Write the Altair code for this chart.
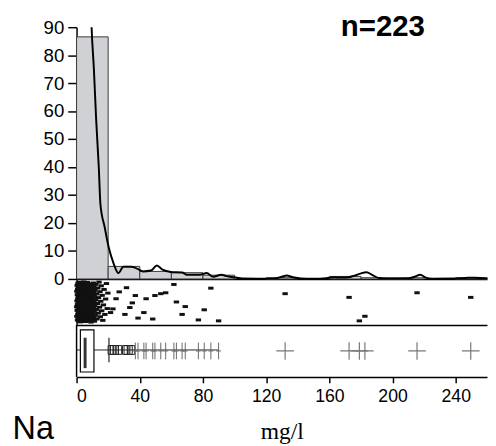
import altair as alt
import pandas as pd

N_LABEL = "n=223"
ELEMENT = "Na"
UNIT = "mg/l"

# Na concentrations (mg/l) below 20, read as a dense cloud
core_values = [
    0.1, 0.2, 0.2, 0.3, 0.4, 0.4, 0.5, 0.6, 0.6, 0.7,
    0.8, 0.8, 0.9, 1.0, 1.0, 1.1, 1.1, 1.2, 1.3, 1.3,
    1.4, 1.4, 1.5, 1.5, 1.6, 1.6, 1.7, 1.7, 1.7, 1.8,
    1.8, 1.9, 1.9, 1.9, 2.0, 2.0, 2.0, 2.1, 2.1, 2.1,
    2.1, 2.2, 2.2, 2.2, 2.2, 2.3, 2.3, 2.3, 2.3, 2.3,
    2.4, 2.4, 2.4, 2.4, 2.4,
    2.5, 2.5, 2.6, 2.6, 2.7, 2.7, 2.8, 2.9, 2.9, 3.0,
    3.0, 3.1, 3.2, 3.2, 3.3, 3.4, 3.4, 3.5, 3.6, 3.6,
    3.7, 3.8, 3.8, 3.9, 4.0, 4.0, 4.1, 4.2, 4.2, 4.3,
    4.4, 4.4, 4.5, 4.6, 4.6, 4.7, 4.8, 4.8, 4.9, 5.0,
    5.0, 5.1, 5.1, 5.2, 5.2, 5.3, 5.3, 5.3, 5.4, 5.4,
    5.4, 5.4, 5.5, 5.5, 5.6, 5.6,
    5.7, 5.8, 5.9, 6.0, 6.1, 6.2, 6.3, 6.4, 6.5, 6.6,
    6.7, 6.8, 6.9, 7.0, 7.1, 7.2, 7.3, 7.5, 7.6, 7.7,
    7.8, 7.9, 8.0, 8.1, 8.2, 8.4, 8.5, 8.6, 8.7, 8.8,
    8.9, 9.0, 9.1, 9.3, 9.4, 9.5, 9.6, 9.7, 9.9, 10.0,
    10.1, 10.2, 10.3, 10.4, 10.5, 10.6, 10.7, 10.8, 10.9, 11.0,
    11.0, 11.1, 11.2, 11.3, 11.4,
    11.6, 11.8, 12.0, 12.2, 12.5, 12.7, 12.9, 13.2, 13.4, 13.7,
    13.9, 14.2, 14.5, 14.8, 15.0, 15.3, 15.6, 15.9, 16.2, 16.6,
    17.0, 17.4, 17.9, 18.4, 18.9, 19.4, 19.8,
]

# individually visible values above 20 mg/l and their strip positions (0 = top)
upper_values = [21.5, 23, 25, 27, 30.6, 31.6, 33.7, 35.3, 37.2, 38.9,
                42.6, 44, 48.2, 49.6, 53.3, 56.4, 61.6, 63.2, 66.8, 68.8,
                77.1, 80.8, 85, 89.9, 132, 172.5, 179, 182.5, 215.5, 249.5]
upper_jitter = [0.73, 0.65, 0.43, 0.28, 0.77, 0.19, 0.62, 0.52, 0.36, 0.85,
                0.73, 0.43, 0.87, 0.36, 0.32, 0.30, 0.12, 0.50, 0.77, 0.60,
                0.89, 0.67, 0.20, 0.91, 0.32, 0.40, 0.91, 0.81, 0.30, 0.40]

# density curve (x in mg/l, y in %)
density_x = [8.9, 9.5, 11.0, 12.4, 14.1, 15.1, 17.8, 20.3, 23.4, 26.5,
             29.6, 34.7, 38.9, 42.0, 47.1, 50.8, 54.4, 59.5, 66.8, 69.9,
             78.1, 82.4, 86.4, 91.6, 95.0, 99.8, 105, 115, 125, 130,
             133, 137, 142, 150, 158, 163, 168, 172, 176, 180,
             183.5, 187, 191, 197, 210, 214, 217.5, 221, 225, 240,
             248, 252, 259.8]
density_y = [100, 90, 74.6, 57, 39.5, 26.7, 18.5, 11.4, 5.6, 2.1,
             4.4, 4.4, 3.5, 2.7, 3.0, 4.8, 3.3, 2.5, 2.3, 1.5,
             1.5, 2.1, 0.8, 1.5, 1.0, 0.6, 0.15, 0.1, 0.2, 0.8,
             1.2, 0.6, 0.2, 0.1, 0.3, 0.6, 0.5, 0.6, 1.2, 2.0,
             2.4, 1.5, 0.4, 0.1, 0.2, 0.8, 1.5, 0.5, 0.1, 0.15,
             0.4, 0.4, 0.1]

# boxplot statistics
box_q1, box_median, box_q3 = 2.4, 5.4, 11.0
whisker_lo, whisker_hi = 0.1, 20.5
square_limit, far_limit = 36.0, 100.0

# ---------------------------------------------------------------------------
XMAX = 259.8
W = 419
H_HIST, H_STRIP, H_BOX = 257, 47, 53

core_jitter = [0.06 + 0.88 * (((i + 1) * 0.6180339887) % 1.0) for i in range(len(core_values))]
values_df = pd.DataFrame({"v": core_values + upper_values,
                          "j": core_jitter + upper_jitter})
dens_df = pd.DataFrame({"x": density_x, "y": density_y})
near_end = max(v for v in upper_values if v < far_limit)
box_df = pd.DataFrame({"q1": [box_q1], "med": [box_median], "q3": [box_q3],
                       "lo": [whisker_lo], "hi": [whisker_hi], "end": [near_end]})

SANS = "Liberation Sans, Arial, sans-serif"

xs = alt.Scale(domain=[0, XMAX], nice=False, zero=False)
ys = alt.Scale(domain=[0, 90], nice=False, zero=True)
blank_x = alt.Axis(labels=False, ticks=False, title=None, grid=False,
                   domainColor="black", domainWidth=1.5)
y_axis = alt.Axis(
    values=[0, 10, 20, 30, 40, 50, 60, 70, 80, 90], tickCount=10,
    tickSize=9, tickWidth=1.5,
    tickColor="black", domainColor="black", domainWidth=1.5,
    labelFont=SANS, labelFontSize=19, labelColor="black",
    labelOverlap=False, labelPadding=4, title=None, grid=False)

hist = (
    alt.Chart(values_df)
    .transform_joinaggregate(total="count()")
    .transform_bin("b", "v", bin=alt.Bin(extent=[0, 260], step=20))
    .transform_aggregate(n="count()", groupby=["b", "b_end", "total"])
    .transform_calculate(pct="100 * datum.n / datum.total")
    .mark_rect(fill="#cfd1d4", stroke="#3a3a3a", strokeWidth=1)
    .encode(
        x=alt.X("b:Q", scale=xs, axis=blank_x),
        x2="b_end:Q",
        y=alt.Y("pct:Q", scale=ys, axis=y_axis),
    )
)
dens = alt.Chart(dens_df).mark_line(color="black", strokeWidth=2, clip=True,
                                    interpolate="monotone").encode(
    x=alt.X("x:Q", scale=xs, axis=blank_x), y=alt.Y("y:Q", scale=ys, axis=y_axis))
ntext = alt.Chart(pd.DataFrame({"t": [N_LABEL]})).mark_text(
    font=SANS, fontSize=30, fontWeight="bold", align="center",
    baseline="alphabetic", color="black").encode(
    text="t:N", x=alt.value(312.7), y=alt.value(8.5))
top = alt.layer(hist, dens, ntext).properties(width=W, height=H_HIST)

strip = alt.Chart(values_df).mark_point(
    shape="M-1,-0.55H1V0.55H-1Z", filled=True, size=30, color="#111", opacity=1
).encode(
    x=alt.X("v:Q", scale=xs, axis=blank_x),
    y=alt.Y("j:Q", scale=alt.Scale(domain=[0, 1], reverse=True, nice=False),
            axis=alt.Axis(labels=False, ticks=False, title=None, grid=False,
                          domainColor="black", domainWidth=1.5)),
).properties(width=W, height=H_STRIP)

bottom_axis = alt.Axis(
    values=list(range(0, 260, 20)),
    labelExpr="datum.value % 40 === 0 ? datum.label : ''",
    tickSize=6, tickWidth=1.5, tickColor="black",
    domainColor="black", domainWidth=1.5,
    labelFont=SANS, labelFontSize=18, labelColor="black", labelPadding=5,
    title=UNIT, titleFont="Liberation Serif, Times New Roman, serif",
    titleFontSize=24, titleFontWeight="normal", titleColor="black",
    titlePadding=15, grid=False)

base_box = alt.Chart(box_df)
left_line = base_box.mark_rule(color="black", strokeWidth=1.5).encode(
    x=alt.datum(0, scale=xs), y=alt.value(0), y2=alt.value(H_BOX))
box = base_box.mark_rect(fill="white", stroke="black", strokeWidth=1.2).encode(
    x=alt.X("q1:Q", scale=xs, axis=bottom_axis), x2="q3:Q",
    y=alt.value(5), y2=alt.value(48))
whisk_r = base_box.mark_rule(color="#222", strokeWidth=1).encode(
    x=alt.X("q3:Q", scale=xs), x2="end:Q", y=alt.value(25.5))
whisk_l = base_box.mark_rule(color="#222", strokeWidth=1).encode(
    x=alt.X("lo:Q", scale=xs), x2="q1:Q", y=alt.value(25.5))
cap = base_box.mark_rule(color="#222", strokeWidth=1.2).encode(
    x=alt.X("hi:Q", scale=xs), y=alt.value(13), y2=alt.value(38))
med = base_box.mark_rule(color="#333", strokeWidth=3).encode(
    x=alt.X("med:Q", scale=xs), y=alt.value(13), y2=alt.value(44))

pts = alt.Chart(values_df)
squares = pts.transform_filter(
    f"datum.v > {whisker_hi} && datum.v < {square_limit}").mark_point(
    shape="M-0.55,-1H0.55V1H-0.55Z", filled=False, size=81, color="#222",
    strokeWidth=1, opacity=1).encode(x=alt.X("v:Q", scale=xs), y=alt.value(25.5))
small_x = pts.transform_filter(
    f"datum.v >= {square_limit} && datum.v < {far_limit}").mark_point(
    shape="M0,-1V1M-0.3,0H0.3", filled=False, size=289, color="#666",
    strokeWidth=1, opacity=1).encode(x=alt.X("v:Q", scale=xs), y=alt.value(26.5))
big_x = pts.transform_filter(f"datum.v >= {far_limit}").mark_point(
    shape="M0,-1V1M-1,0H1", filled=False, size=324, color="#777",
    strokeWidth=1.2, opacity=1).encode(x=alt.X("v:Q", scale=xs), y=alt.value(26.5))
na = alt.Chart(pd.DataFrame({"t": [ELEMENT]})).mark_text(
    font=SANS, fontSize=33, align="left", baseline="alphabetic",
    color="black").encode(text="t:N", x=alt.value(-65.3), y=alt.value(116))

bottom = alt.layer(box, whisk_r, whisk_l, cap, med, squares, small_x, big_x,
                   left_line, na).properties(width=W, height=H_BOX)

chart = (
    alt.vconcat(top, strip, bottom, spacing=0, bounds="flush")
    .resolve_scale(x="independent", y="independent")
    .configure_view(stroke=None)
    .properties(padding={"top": -1, "left": 4, "right": 0, "bottom": 0})
)

chart.save("out.html", embed_options={"renderer": "svg", "actions": False})
